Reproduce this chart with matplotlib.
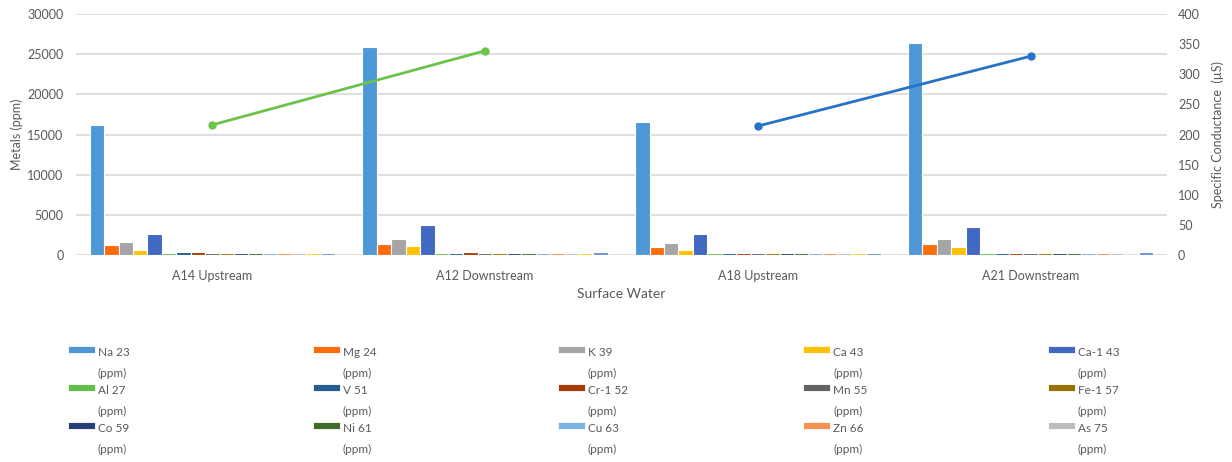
import numpy as np
import matplotlib
matplotlib.use('Agg')
import matplotlib.pyplot as plt
from matplotlib.patches import Rectangle

# --- Data ---
sites = ['A14 Upstream', 'A12 Downstream', 'A18 Upstream', 'A21 Downstream']
metals = ['Na 23', 'Mg 24', 'K 39', 'Ca 43', 'Ca-1 43', 'Al 27', 'V 51', 'Cr-1 52',
          'Mn 55', 'Fe-1 57', 'Co 59', 'Ni 61', 'Cu 63', 'Zn 66', 'As 75',
          'Series 16', 'Series 17']
colors = ['#4E98D8', '#FF6C0C', '#A5A5A5', '#FFC000', '#4169C4', '#62BD4A', '#255E91',
          '#A83C05', '#636363', '#997300', '#263F78', '#3F6C2A', '#7CB3E6', '#F79250',
          '#BDBDBD', '#FFCB2E', '#6F91D6']

# metal concentrations (ppm), one row per metal, one value per site
na = [16200, 25900, 16500, 26400]
mg = [1200, 1330, 950, 1350]
k = [1560, 2050, 1530, 1950]
ca = [650, 1130, 620, 960]
ca1 = [2650, 3700, 2620, 3530]
al = [300, 290, 280, 290]
v = [320, 310, 300, 310]
cr1 = [320, 320, 310, 310]
mn = [300, 310, 300, 300]
fe1 = [310, 310, 300, 310]
co = [300, 310, 300, 300]
ni = [300, 300, 300, 300]
cu = [280, 290, 280, 280]
zn = [310, 310, 300, 300]
as75 = [280, 290, 280, 280]
s16 = [300, 300, 290, 0]
s17 = [310, 320, 310, 320]
values = [na, mg, k, ca, ca1, al, v, cr1, mn, fe1, co, ni, cu, zn, as75, s16, s17]

# specific conductance (uS)
cond_up_down_1 = [216, 339, np.nan, np.nan]
cond_up_down_2 = [np.nan, np.nan, 214, 330]

plt.rcParams['font.family'] = ['Lato', 'DejaVu Sans']
text_col = '#595959'

fig = plt.figure(figsize=(12.32, 4.62), dpi=100)
ax = fig.add_axes([76 / 1232, 1 - 255 / 462, (1167 - 76) / 1232, (255 - 14) / 462])

x = np.arange(len(sites))
n = len(metals)
slot = 0.9 / n
for i, (vals, col) in enumerate(zip(values, colors)):
    ax.bar(x - 0.45 + slot * (i + 0.5), vals, width=slot, color=col,
           edgecolor='white', linewidth=0.8, zorder=2)

ax.set_xlim(-0.5, len(sites) - 0.5)
ax.set_ylim(0, 30000)
ax.set_yticks(np.arange(0, 30001, 5000))
ax.set_xticks(x)
ax.set_xticklabels(sites)
ax.grid(axis='y', color='#DCDCDC', linewidth=1.3, zorder=0)
ax.set_axisbelow(True)
for s in ax.spines.values():
    s.set_visible(False)
ax.tick_params(axis='both', length=0, labelsize=9, colors=text_col)
ax.tick_params(axis='y', pad=9)
ax.tick_params(axis='x', pad=11)
ax.set_ylabel('Metals (ppm)', fontsize=9, color=text_col, labelpad=3)
ax.set_xlabel('Surface Water', fontsize=10, color=text_col, labelpad=4)

ax2 = ax.twinx()
ax2.plot(x, cond_up_down_1, color='#6CC24A', linewidth=2, marker='o', markersize=5)
ax2.plot(x, cond_up_down_2, color='#2673C6', linewidth=2, marker='o', markersize=5)
ax2.set_ylim(0, 400)
ax2.set_yticks(np.arange(0, 401, 50))
for s in ax2.spines.values():
    s.set_visible(False)
ax2.tick_params(axis='y', length=0, labelsize=9, colors=text_col, pad=8)
ax2.set_ylabel('Specific Conductance  (\u00b5S)', fontsize=9, color=text_col, labelpad=8)

# legend: 5 columns, label wraps "(ppm)" onto a second line
for i, (name, col) in enumerate(zip(metals[:15], colors[:15])):
    c, r = i % 5, i // 5
    hx = 68 + 245 * c
    hy = 349 + 38 * r
    fig.patches.append(Rectangle((hx / 1232, 1 - (hy + 3.5) / 462), 27 / 1232, 7 / 462,
                                 transform=fig.transFigure, facecolor=col,
                                 edgecolor='white', linewidth=0.6))
    fig.text((hx + 30) / 1232, 1 - (hy + 3) / 462, name, fontsize=8.5,
             color=text_col, va='center', ha='left')
    fig.text((hx + 30) / 1232, 1 - (hy + 24) / 462, '(ppm)', fontsize=8.5,
             color=text_col, va='center', ha='left')

fig.savefig('out.png', dpi=100)
